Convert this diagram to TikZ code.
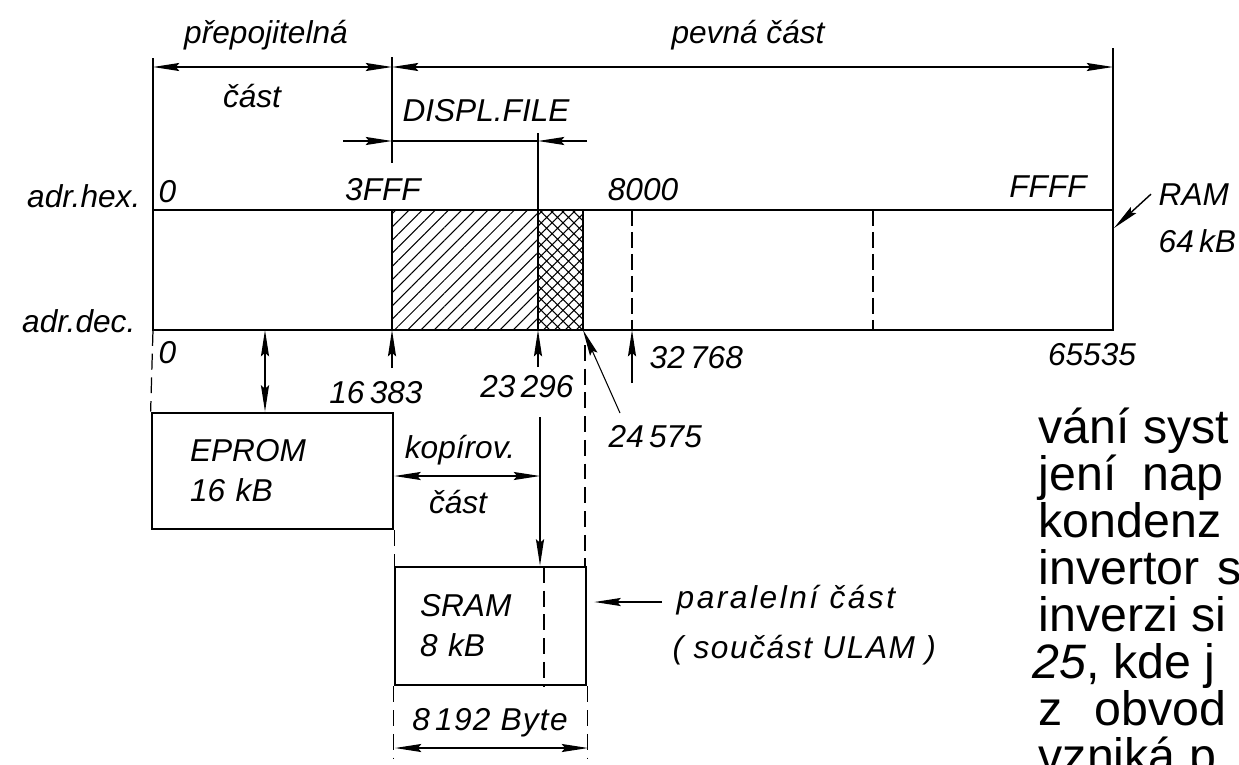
\documentclass[tikz,border=0pt]{standalone}
\usepackage{fontspec}
\setmainfont{Liberation Sans}
\usetikzlibrary{arrows.meta,patterns.meta}

\begin{document}
\begin{tikzpicture}[
    >={Stealth[length=15pt,width=4.6pt,inset=2pt]},
    x=0.02cm,
    y=-0.02cm,
    line width=0.8pt,
    every node/.style={font=\fontsize{18}{22.8}\selectfont\itshape, inner sep=0pt},
    box/.style={draw, line width=1.6pt},
    dimline/.style={<->, line width=0.7pt},
    partline/.style={line width=1.2pt, dash pattern=on 9pt off 3.5pt},
    extdash/.style={line width=0.7pt, dash pattern=on 9pt off 4.5pt},
    body/.style={font=\fontsize{27.5}{33}\selectfont\upshape, anchor=base west}
]
\useasboundingbox (0,0) rectangle (1239,764);

% pamet RAM 64 kB
\coordinate (a0) at (153,210);
\coordinate (a1) at (392,210);
\coordinate (a2) at (538,210);
\coordinate (a3) at (583,210);
\coordinate (a5) at (632,210);
\coordinate (a6) at (873,210);
\coordinate (a4) at (1113,210);
\coordinate (b0) at (153,330);
\coordinate (b1) at (392,330);
\coordinate (b2) at (538,330);
\coordinate (b3) at (583,330);
\coordinate (b5) at (632,330);
\coordinate (b6) at (873,330);
\coordinate (b4) at (1113,330);

\fill[pattern={Lines[angle=45,distance=5.3pt,line width=0.6pt]}] (a1) rectangle (b2);
\fill[pattern={Hatch[angle=45,distance=4.4pt,line width=0.6pt]}] (a2) rectangle (b3);
\draw[box] (a0) rectangle (b4);
\draw (a1) -- (b1);
\draw[box] (a2) -- (b2);
\draw[box] (a3) -- (b3);
\draw[partline] (a5) -- (b5);
\draw[partline] (a6) -- (b6);

% horni koty
\coordinate (e0) at (153,58);
\coordinate (e1) at (392,57);
\coordinate (e1b) at (392,163);
\coordinate (e4) at (1113,48);
\coordinate (t0) at (153,67);
\coordinate (t1) at (392,67);
\coordinate (t4) at (1113,67);
\draw (e0) -- (a0);
\draw (e1) -- (e1b);
\draw (e4) -- (a4);
\draw[dimline] (t0) -- (t1);
\draw[dimline] (t1) -- (t4);

\node[anchor=base] (prep) at (266,43) {přepojitelná};
\node[anchor=base] (prepcast) at (252,107) {část};
\node[anchor=base] (pevna) at (748,43) {pevná část};

% DISPL.FILE
\coordinate (f0) at (343,141);
\coordinate (f1) at (392,141);
\coordinate (f2) at (538,141);
\coordinate (f3) at (587,141);
\coordinate (e2) at (538,133);
\draw (e2) -- (a2);
\draw (f1) -- (f2);
\draw[->] (f0) -- (f1);
\draw[->] (f3) -- (f2);
\node[anchor=base] (displ) at (486,121) {DISPL.FILE};

% adresy
\node[anchor=base east] (adrhex) at (141,207) {adr.hex.};
\node[anchor=base east] (adrdec) at (136,332) {adr.dec.};
\node[anchor=base west] (h0) at (158,202) {0};
\node[anchor=base] (h3fff) at (383,200) {3FFF};
\node[anchor=base] (h8000) at (643,200) {8000};
\node[anchor=base] (hffff) at (1048,197) {FFFF};
\node[anchor=base west] (d0) at (158,363) {0};
\node[anchor=base] (d16383) at (376,403) {16\,383};
\node[anchor=base] (d23296) at (527,397) {23\,296};
\node[anchor=base west] (d24575) at (608,447) {24\,575};
\node[anchor=base west] (d32768) at (649,368) {32\,768};
\node[anchor=base] (d65535) at (1092,365) {65535};

\node[anchor=base west] (ram) at (1158,205) {RAM};
\node[anchor=base west] (ramkb) at (1158,252) {64\,kB};
\coordinate (a4m) at (1114,228);
\draw[->] ([xshift=-4pt]ram.west) -- (a4m);

% sipky k adresam
\coordinate (u1) at (392,368);
\coordinate (u2) at (538,367);
\coordinate (u3) at (620,413);
\coordinate (u5) at (632,383);
\draw[->] (u1) -- (b1);
\draw[->] (u2) -- (b2);
\draw[->, line width=0.6pt] (u3) -- (b3);
\draw[->] (u5) -- (b5);

% EPROM
\node[box, minimum width=4.82cm, minimum height=2.32cm, text width=3.3cm,
      inner xsep=0.76cm, align=left] (eprom) at (272.5,471) {EPROM\\16 kB};
\coordinate (ep) at (265,330);
\draw[<->] (ep) -- (ep |- eprom.north);
\draw[extdash] (b0) -- (eprom.north west);

% SRAM
\node[box, minimum width=3.82cm, minimum height=2.36cm, text width=2.82cm,
      inner xsep=0.5cm, align=left] (sram) at (490.5,626) {SRAM\\8 kB};
\coordinate (sd) at (544,567);
\draw[extdash] (sd) -- (sd |- sram.south);
\coordinate (x3) at (585,345);
\draw[extdash] (x3) -- (x3 |- sram.north);
\draw[extdash] (eprom.south east) -- (eprom.south east |- sram.north);
\draw[extdash] (sram.south west) -- ++(0,72);
\draw[extdash] (sram.south east) -- ++(0,72);

% kopirovana cast
\coordinate (kv) at (540,417);
\draw[->] (kv) -- (kv |- sram.north);
\draw[dimline] ([yshift=-0.1cm]eprom.east) -- ([yshift=-0.1cm]eprom.east -| kv);
\node[anchor=base] (kop) at (460,458) {kopírov.};
\node[anchor=base] (kopcast) at (458,513) {část};

% 8192 Byte
\coordinate (s0) at (395,748);
\coordinate (s1) at (588,748);
\draw[dimline] (s0) -- (s1);
\node[anchor=base, font=\fontsize{18}{22.8}\selectfont\itshape\addfontfeature{LetterSpace=4}]
    (byte) at (490,730) {8\,192 Byte};

% paralelni cast
\coordinate (p0) at (662,602);
\draw[->] (p0) -- ([xshift=0.14cm]p0 -| sram.east);
\node[anchor=base west, font=\fontsize{18}{22.8}\selectfont\itshape\addfontfeature{LetterSpace=8}]
    (par) at (676,608) {paralelní část};
\node[anchor=base west, font=\fontsize{18}{22.8}\selectfont\itshape\addfontfeature{LetterSpace=5}]
    (parb) at (672,658) {( součást ULAM )};

% okolni text
\node[body] (l1) at (1038,443) {vání syst};
\node[body] (l2) at (1038,490) {jení\hspace{15pt}nap};
\node[body] (l3) at (1038,537) {kondenz};
\node[body] (l4) at (1038,584) {invertor\hspace{10pt}s};
\node[body] (l5) at (1038,631) {inverzi si};
\node[body] (l6) at (1032,678) {\itshape 25\upshape, kde j};
\node[body] (l7) at (1038,725) {z\hspace{18pt}obvod};
\node[body] (l8) at (1038,772) {vzniká p};

\end{tikzpicture}
\end{document}
